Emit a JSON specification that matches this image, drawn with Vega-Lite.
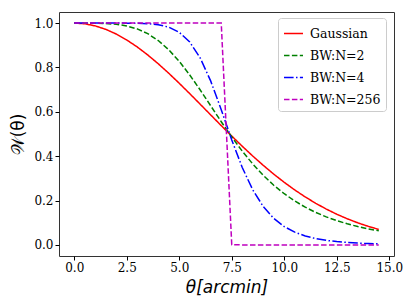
{
  "$schema": "https://vega.github.io/schema/vega-lite/v6.json",
  "autosize": {"type": "none"},
  "width": 335,
  "height": 244,
  "padding": {"left": 59, "top": 12, "right": 15, "bottom": 51},
  "background": "white",
  "config": {
    "view": {"stroke": "#333", "strokeWidth": 1},
    "axis": {"grid": false, "domain": false, "tickColor": "#000", "tickSize": 4, "labelFont": "DejaVu Serif", "labelFontSize": 12, "labelColor": "#000", "titleColor": "#000", "titleFontWeight": "normal"}
  },
  "data": {"values": [
    {"t": 0, "Gaussian": 1, "BW:N=2": 1, "BW:N=4": 1, "BW:N=256": 1},
    {"t": 0.5, "Gaussian": 0.99684, "BW:N=2": 0.99998, "BW:N=4": 1, "BW:N=256": 1},
    {"t": 1.0, "Gaussian": 0.98742, "BW:N=2": 0.99967, "BW:N=4": 1, "BW:N=256": 1},
    {"t": 1.5, "Gaussian": 0.97192, "BW:N=2": 0.99831, "BW:N=4": 1, "BW:N=256": 1},
    {"t": 2.0, "Gaussian": 0.95063, "BW:N=2": 0.99469, "BW:N=4": 0.99997, "BW:N=256": 1},
    {"t": 2.5, "Gaussian": 0.92394, "BW:N=2": 0.98714, "BW:N=4": 0.99983, "BW:N=256": 1},
    {"t": 3.0, "Gaussian": 0.89233, "BW:N=2": 0.9737, "BW:N=4": 0.99927, "BW:N=256": 1},
    {"t": 3.5, "Gaussian": 0.85636, "BW:N=2": 0.95234, "BW:N=4": 0.9975, "BW:N=256": 1},
    {"t": 4.0, "Gaussian": 0.81667, "BW:N=2": 0.92134, "BW:N=4": 0.99276, "BW:N=256": 1},
    {"t": 4.5, "Gaussian": 0.77389, "BW:N=2": 0.8797, "BW:N=4": 0.98164, "BW:N=256": 1},
    {"t": 5.0, "Gaussian": 0.72873, "BW:N=2": 0.82752, "BW:N=4": 0.95837, "BW:N=256": 1},
    {"t": 5.5, "Gaussian": 0.68188, "BW:N=2": 0.76619, "BW:N=4": 0.91481, "BW:N=256": 1},
    {"t": 6.0, "Gaussian": 0.63401, "BW:N=2": 0.69823, "BW:N=4": 0.84261, "BW:N=256": 1},
    {"t": 6.5, "Gaussian": 0.58579, "BW:N=2": 0.62685, "BW:N=4": 0.73835, "BW:N=256": 1},
    {"t": 7.0, "Gaussian": 0.53782, "BW:N=2": 0.55534, "BW:N=4": 0.60934, "BW:N=256": 1},
    {"t": 7.5, "Gaussian": 0.49066, "BW:N=2": 0.48658, "BW:N=4": 0.47318, "BW:N=256": 0.001},
    {"t": 8.0, "Gaussian": 0.44481, "BW:N=2": 0.42266, "BW:N=4": 0.34894, "BW:N=256": 0},
    {"t": 8.5, "Gaussian": 0.4007, "BW:N=2": 0.36486, "BW:N=4": 0.24812, "BW:N=256": 0},
    {"t": 9.0, "Gaussian": 0.35869, "BW:N=2": 0.31368, "BW:N=4": 0.17279, "BW:N=256": 0},
    {"t": 9.5, "Gaussian": 0.31906, "BW:N=2": 0.26909, "BW:N=4": 0.11936, "BW:N=256": 0},
    {"t": 10.0, "Gaussian": 0.28202, "BW:N=2": 0.23069, "BW:N=4": 0.0825, "BW:N=256": 0},
    {"t": 10.5, "Gaussian": 0.2477, "BW:N=2": 0.19788, "BW:N=4": 0.05737, "BW:N=256": 0},
    {"t": 11.0, "Gaussian": 0.21619, "BW:N=2": 0.17, "BW:N=4": 0.04026, "BW:N=256": 0},
    {"t": 11.5, "Gaussian": 0.18749, "BW:N=2": 0.14636, "BW:N=4": 0.02856, "BW:N=256": 0},
    {"t": 12.0, "Gaussian": 0.16158, "BW:N=2": 0.12634, "BW:N=4": 0.02048, "BW:N=256": 0},
    {"t": 12.5, "Gaussian": 0.13837, "BW:N=2": 0.10939, "BW:N=4": 0.01486, "BW:N=256": 0},
    {"t": 13.0, "Gaussian": 0.11775, "BW:N=2": 0.09502, "BW:N=4": 0.0109, "BW:N=256": 0},
    {"t": 13.5, "Gaussian": 0.09957, "BW:N=2": 0.0828, "BW:N=4": 0.00808, "BW:N=256": 0},
    {"t": 14.0, "Gaussian": 0.08366, "BW:N=2": 0.07241, "BW:N=4": 0.00606, "BW:N=256": 0},
    {"t": 14.5, "Gaussian": 0.06985, "BW:N=2": 0.06353, "BW:N=4": 0.00458, "BW:N=256": 0}
  ]},
  "transform": [
    {"fold": ["Gaussian", "BW:N=2", "BW:N=4", "BW:N=256"], "as": ["series", "w"]}
  ],
  "mark": {"type": "line", "strokeWidth": 1.5, "clip": true},
  "encoding": {
    "x": {"field": "t", "type": "quantitative", "scale": {"domain": [-0.725, 15.225], "nice": false, "zero": false},
      "axis": {"values": [0, 2.5, 5, 7.5, 10, 12.5, 15], "format": ".1f", "labelFont": "DejaVu Serif", "labelFontSize": 12, "title": "θ[arcmin]", "titleFont": "DejaVu Sans", "titleFontStyle": "italic", "titleFontSize": 17, "titlePadding": 6}},
    "y": {"field": "w", "type": "quantitative", "scale": {"domain": [-0.05, 1.05], "nice": false, "zero": false},
      "axis": {"values": [0, 0.2, 0.4, 0.6, 0.8, 1.0], "format": ".1f", "labelFont": "DejaVu Serif", "labelFontSize": 12, "title": "𝒲(θ)", "titleFont": "DejaVu Sans", "titleFontSize": 17, "titlePadding": 6}},
    "color": {"field": "series", "type": "nominal", "sort": ["Gaussian", "BW:N=2", "BW:N=4", "BW:N=256"],
      "scale": {"domain": ["Gaussian", "BW:N=2", "BW:N=4", "BW:N=256"], "range": ["#ff0000", "#008000", "#0000ff", "#bf00bf"]},
      "legend": {"title": null, "orient": "none", "legendX": 219, "legendY": 6, "symbolType": "stroke", "symbolSize": 361, "symbolStrokeWidth": 1.5, "labelFont": "DejaVu Serif", "labelFontSize": 12.5, "labelColor": "#000", "rowPadding": 5, "labelOffset": 6, "padding": 5, "strokeColor": "#ccc", "fillColor": "white", "cornerRadius": 3}},
    "strokeDash": {"field": "series", "type": "nominal", "sort": ["Gaussian", "BW:N=2", "BW:N=4", "BW:N=256"],
      "scale": {"domain": ["Gaussian", "BW:N=2", "BW:N=4", "BW:N=256"], "range": [[1, 0], [5.5, 2.4], [9.6, 2.4, 1.5, 2.4], [5.5, 2.4]]},
      "legend": {"title": null}}
  }
}
